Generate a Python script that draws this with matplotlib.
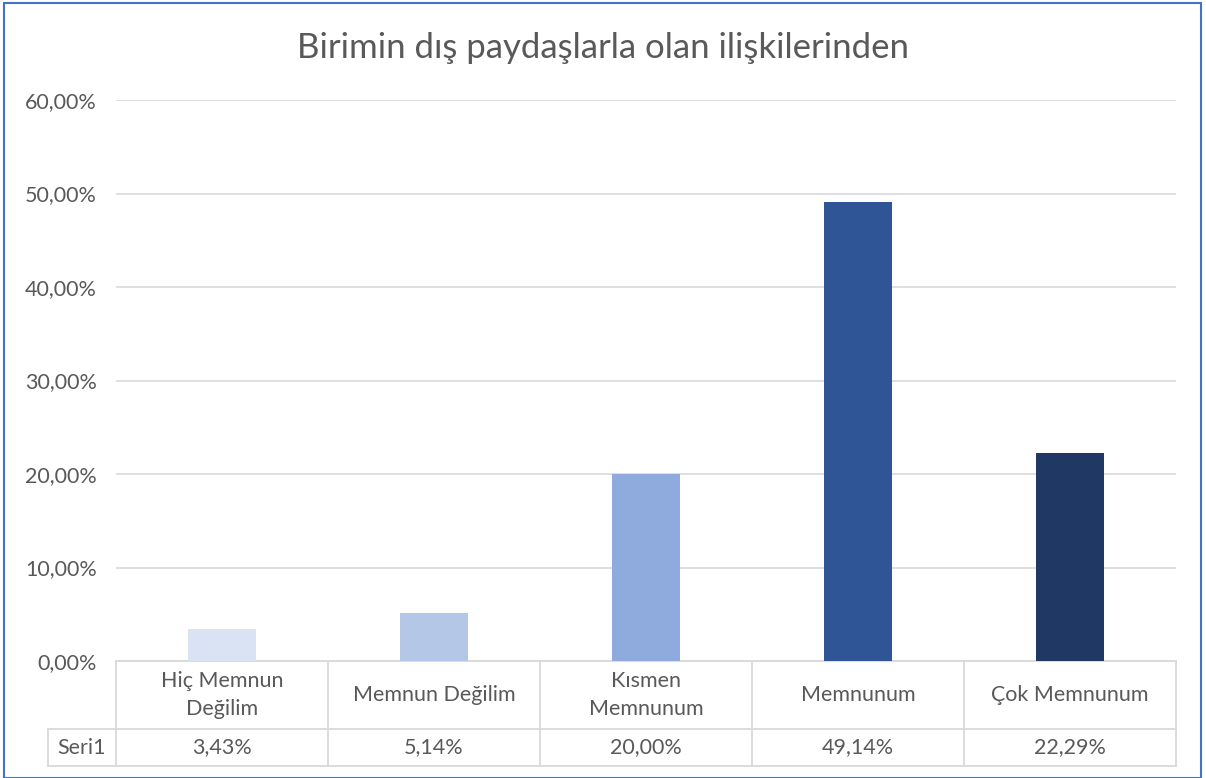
import matplotlib
matplotlib.use('Agg')
import matplotlib.pyplot as plt
import matplotlib.transforms as mtransforms
from matplotlib.patches import Rectangle

plt.rcParams['font.family'] = ['Lato', 'DejaVu Sans']

title = 'Birimin dış paydaşlarla olan ilişkilerinden'
categories = ['Hiç Memnun\nDeğilim', 'Memnun Değilim', 'Kısmen\nMemnunum', 'Memnunum', 'Çok Memnunum']
values = [3.43, 5.14, 20.00, 49.14, 22.29]
series_name = 'Seri1'
colors = ['#DAE3F3', '#B4C7E7', '#8FAADC', '#2F5597', '#203864']

text_color = '#595959'
grid_color = '#D9D9D9'

fig = plt.figure(figsize=(12.06, 7.78), dpi=100)
ax = fig.add_axes([116 / 1206, 1 - 661 / 778, (1176 - 116) / 1206, (661 - 100) / 778])

x = range(len(categories))
ax.bar(x, values, width=0.32, color=colors, zorder=3)

ax.set_xlim(-0.5, len(categories) - 0.5)
ax.set_ylim(0, 60)
ax.set_yticks(range(0, 61, 10))
ax.set_yticklabels([f'{v:.2f}%'.replace('.', ',') for v in range(0, 61, 10)],
                   fontsize=15.5, color=text_color)
ax.tick_params(axis='y', length=0, pad=14)
ax.set_xticks([])
ax.grid(axis='y', color=grid_color, linewidth=1.2, zorder=0)
for s in ['top', 'right', 'left', 'bottom']:
    ax.spines[s].set_visible(False)

# data table below the axis
tr = mtransforms.blended_transform_factory(ax.transData, ax.transAxes)
y_head = -(729 - 661) / 561
y_bot = -(766 - 661) / 561
x_left = -0.5 - (116 - 48) / 212
n = len(categories)
line_kw = dict(color=grid_color, linewidth=1.3, transform=tr, clip_on=False)
ax.plot([-0.5, n - 0.5], [0, 0], **line_kw)
ax.plot([x_left, n - 0.5], [y_head, y_head], **line_kw)
ax.plot([x_left, n - 0.5], [y_bot, y_bot], **line_kw)
for k in range(n + 1):
    ax.plot([k - 0.5, k - 0.5], [0, y_bot], **line_kw)
ax.plot([x_left, x_left], [y_head, y_bot], **line_kw)

for i, (cat, val) in enumerate(zip(categories, values)):
    ax.text(i, y_head / 2, cat, transform=tr, ha='center', va='center',
            fontsize=15.5, color=text_color, linespacing=1.5)
    ax.text(i, (y_head + y_bot) / 2, f'{val:.2f}%'.replace('.', ','), transform=tr,
            ha='center', va='center', fontsize=15.5, color=text_color)
ax.text((x_left - 0.5) / 2, (y_head + y_bot) / 2, series_name, transform=tr,
        ha='center', va='center', fontsize=15.5, color=text_color)

fig.text(0.5, 1 - 48 / 778, title, ha='center', va='center', fontsize=25, color=text_color)

# outer chart border
fig.patches.append(Rectangle((4 / 1206, 0), 1197 / 1206, 1 - 3 / 778, transform=fig.transFigure,
                             fill=False, edgecolor='#4472C4', linewidth=1.5))

fig.savefig('out.png', dpi=100)
plt.close(fig)
